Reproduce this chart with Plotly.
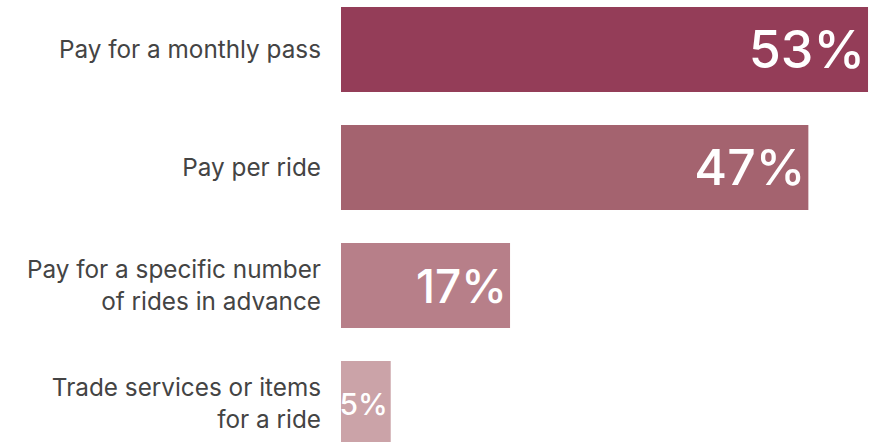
import plotly.graph_objects as go

# Survey responses: preferred way to pay for rides (% of respondents)
categories = [
    "Pay for a monthly pass",
    "Pay per ride",
    "Pay for a specific number<br>of rides in advance",
    "Trade services or items<br>for a ride",
]
values = [53, 47, 17, 5]
value_labels = ["53%", "47%", "17%", "5%"]

bar_colors = ["#943D58", "#A4636F", "#B77F89", "#CBA3A8"]
label_sizes = [52, 50, 46, 30]

fig = go.Figure(
    go.Bar(
        x=values,
        y=categories,
        orientation="h",
        width=0.72,
        marker=dict(color=bar_colors, line=dict(width=0)),
        text=value_labels,
        textposition="inside",
        insidetextanchor="end",
        textangle=0,
        textfont=dict(family="Inter, sans-serif", color="white", size=label_sizes, weight=500),
        constraintext="none",
        hoverinfo="skip",
    )
)

fig.update_layout(
    width=873,
    height=442,
    margin=dict(l=341, r=0, t=0, b=0),
    paper_bgcolor="white",
    plot_bgcolor="white",
    showlegend=False,
    xaxis=dict(
        range=[0, 53.5],
        visible=False,
        fixedrange=True,
    ),
    yaxis=dict(
        type="category",
        categoryorder="array",
        categoryarray=categories,
        range=[3.326, -0.419],
        showgrid=False,
        showline=False,
        zeroline=False,
        ticks="",
        ticklabelstandoff=19,
        tickfont=dict(family="Inter, sans-serif", size=24.3, color="#444444"),
        fixedrange=True,
    ),
)

fig.write_html("out.html")
